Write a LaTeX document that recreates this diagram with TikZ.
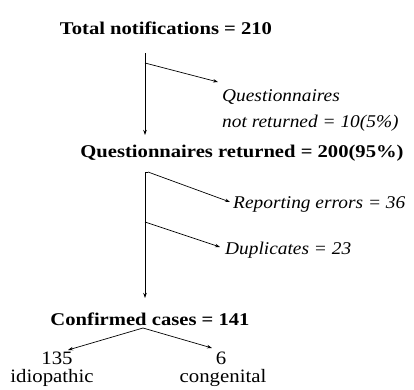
\documentclass[tikz,border=0pt]{standalone}
\usepackage{fontspec}
\setmainfont{Liberation Serif}
\newfontfamily\hdfont[FakeStretch=1.15]{Liberation Serif}
\newfontfamily\bodyfont[FakeStretch=1.1]{Liberation Serif}
\newfontfamily\itfont[FakeStretch=1.08]{Liberation Serif}
\usetikzlibrary{arrows.meta}
\begin{document}
\begin{tikzpicture}[x=1bp,y=-1bp,
  hd/.style={font=\hdfont\fontsize{18}{20}\selectfont\bfseries, inner sep=0pt},
  it/.style={font=\itfont\fontsize{18}{20}\selectfont\itshape, inner sep=0pt, anchor=west},
  rm/.style={font=\bodyfont\fontsize{19}{21}\selectfont, inner sep=0pt},
  conn/.style={line width=0.7pt, -{Stealth[length=5pt,width=3.5pt]}},
  ln/.style={line width=0.7pt}]
\useasboundingbox (0,0) rectangle (414,390);
\node[hd] (total) at (166,28) {Total notifications = 210};
\node[hd] (qret) at (242,153) {Questionnaires returned = 200(95\%)};
\node[hd] (conf) at (150,319) {Confirmed cases = 141};
\node[it] (qnr1) at (222,97) {Questionnaires};
\node[it] (qnr2) at (222,123) {not returned = 10(5\%)};
\node[it] (rep) at (233,204) {Reporting errors = 36};
\node[it] (dup) at (225,250) {Duplicates = 23};
\node[rm] (n135) at (57,358) {135};
\node[rm] (idio) at (52,378) {idiopathic};
\node[rm] (n6) at (221,358) {6};
\node[rm] (cong) at (223,378) {congenital};
\coordinate (v1top) at (145,53);
\coordinate (b1) at (145,63);
\coordinate (v2top) at (145,172);
\coordinate (b2) at (148,172);
\coordinate (b3) at (145,222);
\coordinate (cs) at (143,328);
\draw[conn] (v1top) -- (145,135);
\draw[conn] (b1) -- (218,82);
\draw[ln] (v2top) -- (b2);
\draw[conn] (b2) -- (230,202);
\draw[conn] (v2top) -- (145,298);
\draw[conn] (b3) -- (220,247);
\draw[conn] (cs) -- (68,350);
\draw[conn] (cs) -- (212,348);
\end{tikzpicture}
\end{document}
